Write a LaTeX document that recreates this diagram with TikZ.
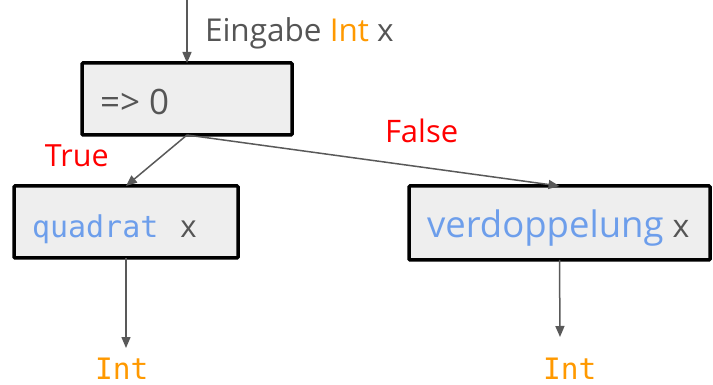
\documentclass[tikz,border=0pt]{standalone}
\usepackage{fontspec}
\setmainfont{Open Sans}
\setmonofont{DejaVu Sans Mono}
\usetikzlibrary{arrows.meta}
\definecolor{txtgray}{HTML}{555555}
\definecolor{linegray}{HTML}{595959}
\definecolor{boxfill}{HTML}{EEEEEE}
\definecolor{kwblue}{HTML}{6D9EEB}
\definecolor{typeorange}{HTML}{FF9900}
\definecolor{condred}{HTML}{FF0000}
\tikzset{
  box/.style={draw=black, fill=boxfill, line width=3.5pt, rounded corners=1pt, inner sep=0pt, outer sep=0pt},
  lbl/.style={anchor=base west, inner sep=0pt, outer sep=0pt, text=txtgray},
  conn/.style={draw=linegray, line width=1.5pt, -{Triangle[length=11pt, width=9pt]}},
}
\begin{document}
\begin{tikzpicture}[x=1pt, y=-1pt]
\useasboundingbox (0,0) rectangle (713,385);
% boxes
\node[box, minimum width=210pt, minimum height=72pt] (b0) at (187,99) {};
\node[box, minimum width=224pt, minimum height=72pt] (bq) at (126,222) {};
\node[box, minimum width=301pt, minimum height=74pt] (bv) at (559.5,223) {};
\coordinate (in) at (187,0);
% texts
\node[lbl, font=\fontsize{31.5}{38}\selectfont] (tin) at (205,42) {Eingabe \textcolor{typeorange}{Int} x};
\node[lbl, font=\fontsize{35}{42}\selectfont] (t0) at (100,115) {=> 0};
\node[lbl, font=\fontsize{30.5}{37}\selectfont, text=condred] (ttrue) at (45,167) {True};
\node[lbl, font=\fontsize{31}{37}\selectfont, text=condred] (tfalse) at (385,143) {False};
\node[lbl, font=\fontsize{31}{37}\selectfont] (tq) at (32,238) {\textcolor{kwblue}{\ttfamily\fontsize{30}{36}\selectfont quadrat}\hspace{22pt}x};
\node[lbl, font=\fontsize{36.5}{44}\selectfont] (tv) at (427,238) {\textcolor{kwblue}{verdoppelung}\hspace{9pt}{\fontsize{32}{38}\selectfont x}};
\node[lbl, font=\ttfamily\fontsize{29.5}{35}\selectfont, text=typeorange] (int1) at (95,379) {Int};
\node[lbl, font=\ttfamily\fontsize{29.5}{35}\selectfont, text=typeorange] (int2) at (543,379) {Int};
\coordinate (e1) at (126,348);
\coordinate (e2) at (560,337);
% connectors
\draw[conn] (in) -- (b0.north);
\draw[conn] (b0.south) -- (bq.north);
\draw[conn] (b0.south) -- (bv.north);
\draw[conn] (bq.south) -- (e1);
\draw[conn] (bv.south) -- (e2);
\end{tikzpicture}
\end{document}
